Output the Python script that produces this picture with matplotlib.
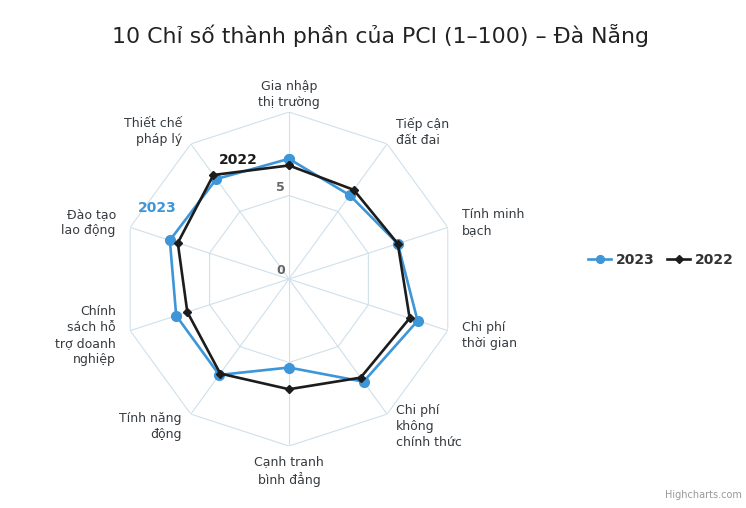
#!/usr/bin/env python
"""
Spider chart of the 10 PCI sub-indices for Da Nang, 2023 vs 2022.
"""

import numpy as np
import matplotlib
matplotlib.use("Agg")
import matplotlib.pyplot as plt

# Data
categories = ["Gia nhập\nthị trường", "Tiếp cận\nđất đai", "Tính minh\nbạch",
              "Chi phí\nthời gian", "Chi phí\nkhông\nchính thức",
              "Cạnh tranh\nbình đẳng", "Tính năng\nđộng",
              "Chính\nsách hỗ\ntrợ doanh\nnghiệp", "Đào tạo\nlao động",
              "Thiết chế\npháp lý"]
values_2023 = [7.2, 6.2, 6.85, 8.1, 7.6, 5.3, 7.1, 7.1, 7.5, 7.4]
values_2022 = [6.8, 6.6, 6.85, 7.6, 7.3, 6.6, 7.0, 6.4, 7.0, 7.7]
series_names = ["2023", "2022"]
r_ticks = [0, 5, 10]

BLUE = "#3d96d8"
BLACK = "#1c1c1c"
GRID = "#cfe0ea"
LABEL = "#363b40"

plt.rcParams['font.family'] = ['DejaVu Sans']

fig = plt.figure(figsize=(7.46, 5.08), dpi=100)
ax = fig.add_axes([0.1635, 0.122, 0.4477, 0.6575], projection="polar")
ax.set_theta_zero_location("N")
ax.set_theta_direction(-1)
ax.set_ylim(0, r_ticks[-1])
ax.grid(False)
ax.set_xticks([])
ax.set_yticks([])
ax.spines['polar'].set_visible(False)
ax.patch.set_alpha(0)

n = len(categories)
theta = np.arange(n) * 2 * np.pi / n
theta_closed = np.append(theta, theta[0])

# polygon grid rings and spokes
for r in r_ticks[1:]:
    ax.plot(theta_closed, [r] * (n + 1), color=GRID, lw=0.8, zorder=1)
for t in theta:
    ax.plot([t, t], [0, r_ticks[-1]], color=GRID, lw=0.8, zorder=1)

# radial tick labels
for r in r_ticks[:-1]:
    ax.annotate(str(r), (0, r), xytext=(-6, 6), textcoords="offset points",
                ha="center", va="center", fontsize=9, color="#666666",
                fontweight="bold")

# category labels
for t, lab in zip(theta, categories):
    deg = np.degrees(t)
    if np.isclose(deg, 0):
        ha, r = "center", 11.05
    elif np.isclose(deg, 180):
        ha, r = "center", 11.5
    elif deg < 180:
        ha, r = "left", 10.9
    else:
        ha, r = "right", 10.9
    ax.text(t, r, lab, ha=ha, va="center", fontsize=9, color=LABEL,
            linespacing=1.3, clip_on=False)

# series
ax.plot(theta_closed, np.append(values_2023, values_2023[0]), color=BLUE,
        lw=1.9, marker="o", ms=7, zorder=3, label=series_names[0])
ax.plot(theta_closed, np.append(values_2022, values_2022[0]), color=BLACK,
        lw=1.9, marker="D", ms=4.5, zorder=4, label=series_names[1])

# data labels on single points
ax.annotate(series_names[1], (theta[9], values_2022[9]), xytext=(18, 11),
            textcoords="offset points", ha="center", va="center",
            fontsize=10, fontweight="bold", color=BLACK)
ax.annotate(series_names[0], (theta[8], values_2023[8]), xytext=(-9, 23),
            textcoords="offset points", ha="center", va="center",
            fontsize=10, fontweight="bold", color=BLUE)

fig.text(0.51, 0.931, "10 Chỉ số thành phần của PCI (1–100) – Đà Nẵng",
         ha="center", va="center", fontsize=15.8, color="#222222")

leg = fig.legend(loc="center left", bbox_to_anchor=(0.772, 1 - 260 / 508),
                 ncol=2, frameon=False, handlelength=1.6, columnspacing=0.9,
                 handletextpad=0.4, markerscale=0.8,
                 prop={"size": 10, "weight": "bold"})
for txt in leg.get_texts():
    txt.set_color("#333333")

fig.text(0.995, 0.015, "Highcharts.com", ha="right", va="bottom",
         fontsize=7, color="#999999")

fig.savefig("out.png", dpi=100)
